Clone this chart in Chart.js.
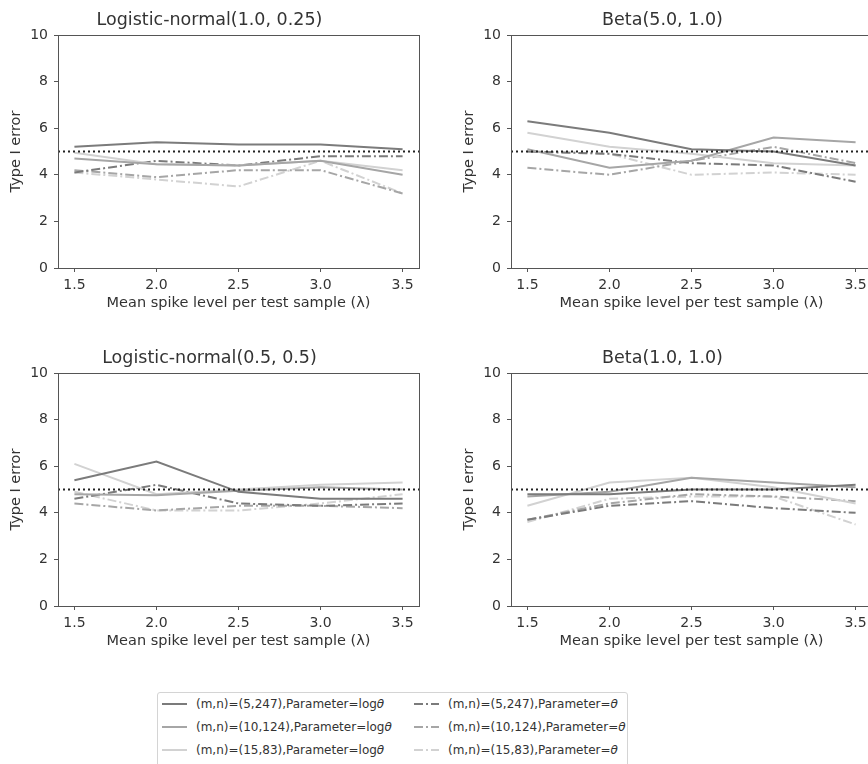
<!DOCTYPE html>
<html>
<head>
<meta charset="utf-8">
<script src="https://cdn.jsdelivr.net/npm/chart.js@4.4.1/dist/chart.umd.min.js"></script>
<style>
	html, body { margin: 0; padding: 0; background: #fff; overflow: hidden; width: 868px; height: 764px; }
	body { position: relative; font-family: "DejaVu Sans", sans-serif; color: #333; }
	canvas.panel { position: absolute; }
	#legend {
		position: absolute; left: 157px; top: 692px; width: 471px; height: 90px;
		border: 1px solid #d4d4d4; border-radius: 3px; box-sizing: border-box;
	}
	.item { position: absolute; height: 20px; font-size: 12px; line-height: 20px; white-space: nowrap; }
	.item svg { position: absolute; left: 0; top: 4px; }
	.item span { position: absolute; left: 34px; top: 0; }
</style>
</head>
<body>
<canvas id="c0" class="panel" width="434" height="320" style="left:0;top:0"></canvas>
<canvas id="c1" class="panel" width="434" height="320" style="left:453px;top:0"></canvas>
<canvas id="c2" class="panel" width="434" height="320" style="left:0;top:338px"></canvas>
<canvas id="c3" class="panel" width="434" height="320" style="left:453px;top:338px"></canvas>
<div id="legend"></div>
<script>
// x values: mean spike level per test sample (lambda)
const LAMBDA = [1.5, 2.0, 2.5, 3.0, 3.5];
const X_MIN = 1.4;
const X_MAX = 3.6;
const Y_TICKS = [0, 2, 4, 6, 8, 10];
const REFERENCE_LEVEL = 5;

const PANEL_TITLES = [
	'Logistic-normal(1.0, 0.25)',
	'Beta(5.0, 1.0)',
	'Logistic-normal(0.5, 0.5)',
	'Beta(1.0, 1.0)'
];

// Logistic-normal(1.0, 0.25)
const ln1_m5_log   = [5.2, 5.4, 5.3, 5.3, 5.1];
const ln1_m10_log  = [4.7, 4.45, 4.4, 4.6, 4.0];
const ln1_m15_log  = [4.95, 4.45, 4.4, 4.6, 4.2];
const ln1_m5_raw   = [4.1, 4.6, 4.4, 4.8, 4.8];
const ln1_m10_raw  = [4.2, 3.9, 4.2, 4.2, 3.2];
const ln1_m15_raw  = [4.1, 3.8, 3.5, 4.6, 3.2];

// Beta(5.0, 1.0)
const b51_m5_log   = [6.3, 5.8, 5.1, 5.0, 4.4];
const b51_m10_log  = [5.1, 4.3, 4.6, 5.6, 5.4];
const b51_m15_log  = [5.8, 5.2, 4.9, 4.5, 4.4];
const b51_m5_raw   = [5.0, 4.9, 4.5, 4.4, 3.7];
const b51_m10_raw  = [4.3, 4.0, 4.6, 5.2, 4.5];
const b51_m15_raw  = [5.0, 4.9, 4.0, 4.1, 4.0];

// Logistic-normal(0.5, 0.5)
const ln2_m5_log   = [5.4, 6.2, 4.9, 4.6, 4.6];
const ln2_m10_log  = [4.8, 4.75, 4.95, 5.1, 5.0];
const ln2_m15_log  = [6.1, 4.8, 5.0, 5.2, 5.3];
const ln2_m5_raw   = [4.6, 5.2, 4.4, 4.3, 4.4];
const ln2_m10_raw  = [4.4, 4.1, 4.3, 4.3, 4.2];
const ln2_m15_raw  = [4.9, 4.1, 4.1, 4.4, 4.8];

// Beta(1.0, 1.0)
const b11_m5_log   = [4.8, 4.8, 5.0, 5.0, 5.2];
const b11_m10_log  = [4.7, 4.9, 5.5, 5.3, 5.1];
const b11_m15_log  = [4.3, 5.3, 5.5, 5.1, 4.4];
const b11_m5_raw   = [3.7, 4.3, 4.5, 4.2, 4.0];
const b11_m10_raw  = [3.7, 4.4, 4.8, 4.7, 4.5];
const b11_m15_raw  = [3.6, 4.6, 4.7, 4.7, 3.5];

const PANEL_SERIES = [
	[ln1_m5_log, ln1_m10_log, ln1_m15_log, ln1_m5_raw, ln1_m10_raw, ln1_m15_raw],
	[b51_m5_log, b51_m10_log, b51_m15_log, b51_m5_raw, b51_m10_raw, b51_m15_raw],
	[ln2_m5_log, ln2_m10_log, ln2_m15_log, ln2_m5_raw, ln2_m10_raw, ln2_m15_raw],
	[b11_m5_log, b11_m10_log, b11_m15_log, b11_m5_raw, b11_m10_raw, b11_m15_raw]
];

const SERIES_NAMES = [
	'(m,n)=(5,247),Parameter=log<i>θ</i>',
	'(m,n)=(10,124),Parameter=log<i>θ</i>',
	'(m,n)=(15,83),Parameter=log<i>θ</i>',
	'(m,n)=(5,247),Parameter=<i>θ</i>',
	'(m,n)=(10,124),Parameter=<i>θ</i>',
	'(m,n)=(15,83),Parameter=<i>θ</i>'
];
const SERIES_COLORS = ['#7b7b7b', '#a6a6a6', '#d2d2d2', '#7b7b7b', '#a6a6a6', '#d2d2d2'];
const DASH_DOT = [9, 3, 2, 3];
const SERIES_DASH = [[], [], [], DASH_DOT, DASH_DOT, DASH_DOT];

const TEXT_COLOR = '#333';
const AXIS_COLOR = '#555';
const FONT = '"DejaVu Sans", sans-serif';

// full box around the plot area (matplotlib spines)
const boxPlugin = {
	id: 'box',
	afterDatasetsDraw(chart) {
		const a = chart.chartArea;
		const ctx = chart.ctx;
		ctx.save();
		ctx.strokeStyle = AXIS_COLOR;
		ctx.lineWidth = 1;
		ctx.strokeRect(Math.round(a.left) + 0.5, Math.round(a.top) + 0.5,
			Math.round(a.right - a.left), Math.round(a.bottom - a.top));
		ctx.restore();
	}
};

function buildPanel(canvasId, title, series) {
	const datasets = [{
		data: [{ x: X_MIN, y: REFERENCE_LEVEL }, { x: X_MAX, y: REFERENCE_LEVEL }],
		borderColor: '#222',
		borderWidth: 2,
		borderDash: [2, 3],
		pointRadius: 0
	}];
	series.forEach((values, i) => {
		datasets.push({
			data: values.map((v, k) => ({ x: LAMBDA[k], y: v })),
			borderColor: SERIES_COLORS[i],
			borderWidth: 2,
			borderDash: SERIES_DASH[i],
			pointRadius: 0,
			tension: 0
		});
	});

	return new Chart(document.getElementById(canvasId), {
		type: 'line',
		data: { datasets },
		plugins: [boxPlugin],
		options: {
			responsive: false,
			animation: false,
			devicePixelRatio: 1,
			layout: { padding: { left: 0, right: 15, top: 0, bottom: 0 } },
			plugins: {
				legend: { display: false },
				tooltip: { enabled: false },
				title: {
					display: true,
					text: title,
					color: TEXT_COLOR,
					font: { family: FONT, size: 17.5, weight: 'normal', lineHeight: 1.2 },
					padding: { top: 9.5, bottom: 4.5 }
				}
			},
			scales: {
				x: {
					type: 'linear',
					min: X_MIN,
					max: X_MAX,
					afterBuildTicks: (scale) => { scale.ticks = LAMBDA.map(v => ({ value: v })); },
					afterFit: (scale) => { scale.height = 52; },
					border: { display: false },
					grid: { drawOnChartArea: false, drawTicks: true, tickLength: 4, tickColor: AXIS_COLOR },
					ticks: {
						color: TEXT_COLOR, padding: 5, maxRotation: 0,
						font: { family: FONT, size: 14 },
						callback: (v) => Number(v).toFixed(1)
					},
					title: {
						display: true,
						text: 'Mean spike level per test sample (λ)',
						color: TEXT_COLOR,
						font: { family: FONT, size: 14.5 },
						padding: { top: 0, bottom: 8 }
					}
				},
				y: {
					min: 0,
					max: 10,
					afterBuildTicks: (scale) => { scale.ticks = Y_TICKS.map(v => ({ value: v })); },
					afterFit: (scale) => { scale.width = 58; },
					border: { display: false },
					grid: { drawOnChartArea: false, drawTicks: true, tickLength: 4, tickColor: AXIS_COLOR },
					ticks: {
						color: TEXT_COLOR, padding: 6,
						font: { family: FONT, size: 14 }
					},
					title: {
						display: true,
						text: 'Type I error',
						color: TEXT_COLOR,
						font: { family: FONT, size: 14.5 },
						padding: { top: 8, bottom: 0 }
					}
				}
			}
		}
	});
}

PANEL_TITLES.forEach((t, i) => buildPanel('c' + i, t, PANEL_SERIES[i]));

// shared legend below the panels, two columns of three
const legendEl = document.getElementById('legend');
SERIES_NAMES.forEach((name, i) => {
	const col = Math.floor(i / 3);
	const row = i % 3;
	const item = document.createElement('div');
	item.className = 'item';
	item.style.left = (col === 0 ? 4 : 256) + 'px';
	item.style.top = (1 + row * 23) + 'px';
	const dash = SERIES_DASH[i].length ? `stroke-dasharray="${SERIES_DASH[i].join(' ')}"` : '';
	item.innerHTML = `<svg width="26" height="12"><line x1="0" y1="6" x2="25" y2="6" stroke="${SERIES_COLORS[i]}" stroke-width="2" ${dash}/></svg><span>${name}</span>`;
	legendEl.appendChild(item);
});
</script>
</body>
</html>
